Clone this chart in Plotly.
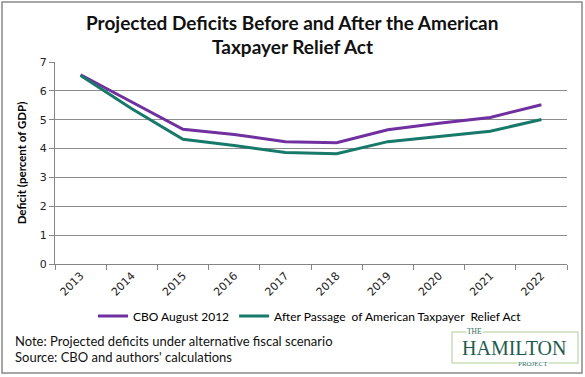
import plotly.graph_objects as go

years = ["2013", "2014", "2015", "2016", "2017", "2018", "2019", "2020", "2021", "2022"]
cbo_aug_2012 = [6.56, 5.62, 4.67, 4.49, 4.24, 4.20, 4.65, 4.88, 5.08, 5.52]
after_atra = [6.53, 5.38, 4.32, 4.11, 3.86, 3.82, 4.24, 4.43, 4.60, 5.01]

W, H = 585, 377
L, R, T, B = 55, 567, 62, 264

def px(x):
    return (x - L) / (R - L)

def py(y):
    return (B - y) / (B - T)

PURPLE = "#7030A0"
TEAL = "#17796A"
FONT = "Lato"

fig = go.Figure()
fig.add_trace(go.Scatter(x=years, y=cbo_aug_2012, mode="lines", name="CBO August 2012",
                         line=dict(color=PURPLE, width=3)))
fig.add_trace(go.Scatter(x=years, y=after_atra, mode="lines",
                         name="After Passage  of American Taxpayer  Relief Act",
                         line=dict(color=TEAL, width=3)))

fig.update_layout(
    width=W, height=H,
    margin=dict(l=L, r=W - R, t=T, b=H - B),
    paper_bgcolor="white", plot_bgcolor="white",
    font=dict(family=FONT, color="#000000"),
    showlegend=True,
    legend=dict(orientation="h", x=px(310), xanchor="center", y=py(316), yanchor="middle",
                font=dict(size=12, family=FONT), bgcolor="rgba(0,0,0,0)", itemwidth=30,
                tracegroupgap=0),
    xaxis=dict(type="category", showgrid=False, showline=True, linecolor="#868686",
               ticks="outside", ticklen=5, tickcolor="#868686", tickson="boundaries",
               tickangle=-45, tickfont=dict(size=11, family="DejaVu Sans", color="#222"),
               range=[-0.5, 9.5]),
    yaxis=dict(range=[0, 7], dtick=1, showgrid=True, gridcolor="#8c8c8c", gridwidth=1,
               showline=True, linecolor="#868686", ticks="outside", ticklen=5,
               tickcolor="#868686", tickfont=dict(size=11, family="DejaVu Sans", color="#222"),
               zeroline=False,
               title=dict(text="<b>Deficit (percent of GDP)</b>", font=dict(size=11.5, family=FONT),
                          standoff=10)),
)

# Title (two lines)
fig.add_annotation(x=px(292), y=py(22), xref="paper", yref="paper", showarrow=False,
                   text="<b>Projected Deficits Before and After the American</b>",
                   font=dict(size=19, family=FONT, color="#111"), xanchor="center", yanchor="middle")
fig.add_annotation(x=px(292), y=py(47), xref="paper", yref="paper", showarrow=False,
                   text="<b>Taxpayer Relief Act</b>",
                   font=dict(size=19, family=FONT, color="#111"), xanchor="center", yanchor="middle")

# Notes
fig.add_annotation(x=px(13), y=py(341), xref="paper", yref="paper", showarrow=False,
                   text="Note: Projected deficits under alternative fiscal scenario",
                   font=dict(size=13, family=FONT, color="#111"), xanchor="left", yanchor="middle")
fig.add_annotation(x=px(13), y=py(357), xref="paper", yref="paper", showarrow=False,
                   text="Source: CBO and authors' calculations",
                   font=dict(size=13, family=FONT, color="#111"), xanchor="left", yanchor="middle")

# Outer border
fig.add_shape(type="rect", xref="paper", yref="paper", x0=px(2), x1=px(582), y0=py(373), y1=py(2),
              line=dict(color="#8a8a8a", width=1.5), layer="above")

# Logo
fig.add_shape(type="rect", xref="paper", yref="paper", x0=px(452), x1=px(578), y0=py(363), y1=py(332),
              line=dict(color="#c9dfb8", width=1.5), fillcolor="white", layer="above")
fig.add_annotation(x=px(474), y=py(331), xref="paper", yref="paper", showarrow=False,
                   text="THE", bgcolor="white", borderpad=0,
                   font=dict(size=7.5, family="Liberation Serif", color="#2e6e5a"),
                   xanchor="center", yanchor="middle")
fig.add_annotation(x=px(514), y=py(348), xref="paper", yref="paper", showarrow=False,
                   text="HAMILTON",
                   font=dict(size=20, family="Liberation Serif", color="#1f5c4f"),
                   xanchor="center", yanchor="middle")
fig.add_annotation(x=px(533), y=py(364), xref="paper", yref="paper", showarrow=False,
                   text="PROJECT", bgcolor="white", borderpad=0,
                   font=dict(size=7, family="Liberation Serif", color="#2e6e5a"),
                   xanchor="center", yanchor="middle")

fig.write_html("out.html", config={"displayModeBar": False},
               post_script="document.body.style.margin='0';")
